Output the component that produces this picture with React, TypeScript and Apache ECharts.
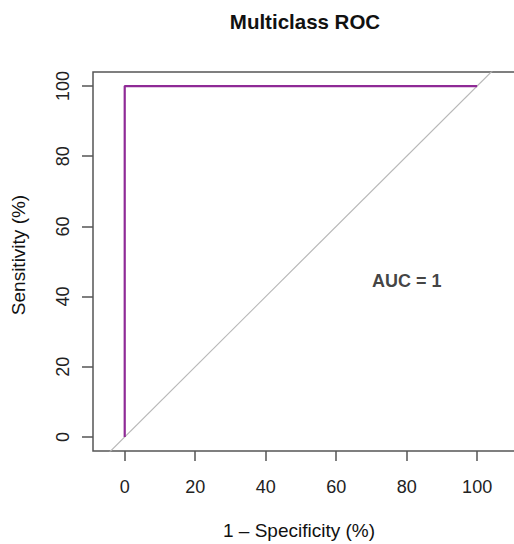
import React, { useEffect, useRef } from "react";
import * as echarts from "echarts";

const rocX = [0, 0, 100];
const rocY = [0, 100, 100];
const diagX = [-20, 130];
const tickValues = [0, 20, 40, 60, 80, 100];
const titleText = "Multiclass ROC";
const xTitle = "1 – Specificity (%)";
const yTitle = "Sensitivity (%)";
const aucLabel = "AUC = 1";
const aucPos = [80, 44.5];

export default function App() {
  const ref = useRef<HTMLDivElement>(null);
  useEffect(() => {
    const chart = echarts.init(ref.current!, null, { renderer: "svg" });
    const font = "Liberation Sans, Arial, sans-serif";
    chart.setOption({
      animation: false,
      backgroundColor: "#ffffff",
      textStyle: { fontFamily: font },
      title: {
        text: titleText,
        left: 300,
        top: 6,
        textAlign: "center",
        textStyle: { fontFamily: font, fontSize: 20.5, fontWeight: "bold", color: "#111" },
      },
      grid: {
        left: 93,
        top: 72,
        right: -16,
        bottom: 544 - 451,
        outerBoundsMode: "none",
        containLabel: false,
        show: true,
        borderColor: "#555",
        borderWidth: 1.5,
        backgroundColor: "transparent",
      },
      xAxis: {
        type: "value",
        min: -9,
        max: 115,
        splitLine: { show: false },
        axisLine: { show: false, onZero: false },
        axisTick: { show: true, customValues: tickValues, length: 10, inside: false, lineStyle: { color: "#555", width: 1.5 } },
        axisLabel: { customValues: tickValues, margin: 27, fontSize: 18, color: "#222", fontFamily: font },
      },
      yAxis: {
        type: "value",
        min: -4,
        max: 104,
        splitLine: { show: false },
        axisLine: { show: false, onZero: false },
        axisTick: { show: true, customValues: tickValues, length: 11, inside: false, lineStyle: { color: "#555", width: 1.5 } },
        axisLabel: { customValues: tickValues, rotate: 90, margin: 21, fontSize: 18, color: "#222", fontFamily: font },
      },
      graphic: [
        {
          type: "text",
          x: 299,
          y: 530,
          style: { text: xTitle, fontSize: 19, fontFamily: font, fill: "#111", textAlign: "center", textVerticalAlign: "middle" },
        },
        {
          type: "text",
          x: 18,
          y: 255,
          rotation: Math.PI / 2,
          style: { text: yTitle, fontSize: 19, fontFamily: font, fill: "#111", textAlign: "center", textVerticalAlign: "middle" },
        },
      ],
      series: [
        {
          type: "line",
          data: diagX.map((v) => [v, v]),
          showSymbol: false,
          clip: true,
          lineStyle: { color: "#b8b8b8", width: 1.2 },
          silent: true,
          z: 1,
        },
        {
          type: "line",
          data: rocX.map((v, i) => [v, rocY[i]]),
          showSymbol: false,
          clip: true,
          lineStyle: { color: "#8f2a96", width: 2.2 },
          z: 2,
        },
        {
          type: "scatter",
          data: [aucPos],
          symbolSize: 0,
          label: {
            show: true,
            formatter: aucLabel,
            position: "inside",
            fontSize: 18,
            fontWeight: "bold",
            color: "#111",
            fontFamily: font,
          },
          silent: true,
        },
      ],
    });
    return () => chart.dispose();
  }, []);
  return <div ref={ref} style={{ position: "absolute", left: 0, top: 0, width: 514, height: 544 }} />;
}
